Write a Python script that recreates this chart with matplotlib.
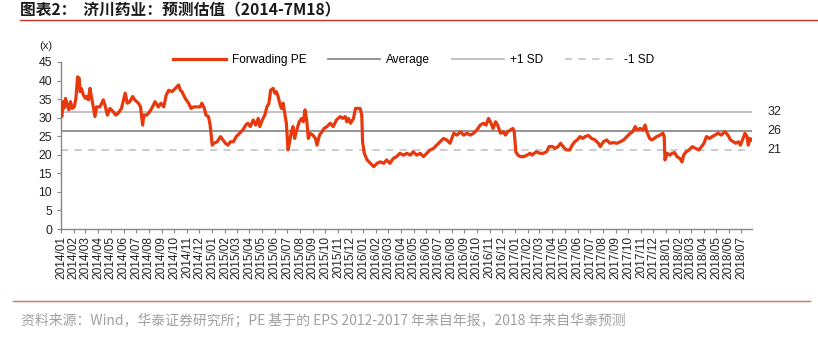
import matplotlib
matplotlib.use("Agg")
import matplotlib.pyplot as plt
import matplotlib.dates as mdates
import pandas as pd

# Forward PE of 济川药业
dates = [
    "2014-01-02", "2014-01-03", "2014-01-06", "2014-01-08", "2014-01-12", "2014-01-16", "2014-01-20",
    "2014-01-24", "2014-01-28", "2014-02-02", "2014-02-06", "2014-02-10", "2014-02-14", "2014-02-16",
    "2014-02-19", "2014-02-24", "2014-03-01", "2014-03-04", "2014-03-08", "2014-03-12", "2014-03-16",
    "2014-03-20", "2014-03-24", "2014-03-28", "2014-04-05", "2014-04-13", "2014-04-17", "2014-04-23",
    "2014-04-29", "2014-05-07", "2014-05-13", "2014-05-19", "2014-05-27", "2014-06-05", "2014-06-10",
    "2014-06-16", "2014-06-23", "2014-06-28", "2014-07-07", "2014-07-12", "2014-07-17", "2014-07-20",
    "2014-07-27", "2014-08-03", "2014-08-08", "2014-08-16", "2014-08-24", "2014-08-30", "2014-09-06",
    "2014-09-12", "2014-09-18", "2014-09-26", "2014-10-04", "2014-10-12", "2014-10-16", "2014-10-20",
    "2014-10-28", "2014-11-05", "2014-11-11", "2014-11-17", "2014-12-03", "2014-12-07", "2014-12-13",
    "2014-12-17", "2014-12-23", "2014-12-27",
    "2015-01-01", "2015-01-05", "2015-01-13", "2015-01-21", "2015-01-27", "2015-02-02", "2015-02-08",
    "2015-02-14", "2015-02-21", "2015-02-28", "2015-03-08", "2015-03-16", "2015-03-23", "2015-03-28",
    "2015-04-03", "2015-04-10", "2015-04-16", "2015-04-22", "2015-04-26", "2015-05-02", "2015-05-08",
    "2015-05-13", "2015-05-18", "2015-05-22", "2015-05-28", "2015-06-01", "2015-06-05", "2015-06-09",
    "2015-06-13", "2015-06-17", "2015-06-21", "2015-06-25", "2015-06-29", "2015-07-03", "2015-07-07",
    "2015-07-11", "2015-07-15", "2015-07-19", "2015-07-23", "2015-07-30", "2015-08-05", "2015-08-09",
    "2015-08-13", "2015-08-17", "2015-08-21", "2015-08-25", "2015-09-01", "2015-09-07", "2015-09-11",
    "2015-09-17", "2015-09-23", "2015-09-28", "2015-10-05", "2015-10-13", "2015-10-20", "2015-10-28",
    "2015-11-06", "2015-11-12", "2015-11-18", "2015-11-22", "2015-11-26", "2015-12-01", "2015-12-08",
    "2015-12-13", "2015-12-18", "2015-12-24", "2015-12-28", "2015-12-30",
    "2016-01-03", "2016-01-10", "2016-01-18", "2016-01-26", "2016-02-03", "2016-02-11", "2016-02-19",
    "2016-02-26", "2016-03-05", "2016-03-13", "2016-03-21", "2016-03-29", "2016-04-07", "2016-04-15",
    "2016-04-23", "2016-04-30", "2016-05-09", "2016-05-17", "2016-05-25", "2016-06-02", "2016-06-10",
    "2016-06-18", "2016-06-26", "2016-07-04", "2016-07-12", "2016-07-20", "2016-07-28", "2016-08-06",
    "2016-08-14", "2016-08-22", "2016-08-30", "2016-09-07", "2016-09-15", "2016-09-23", "2016-10-01",
    "2016-10-09", "2016-10-17", "2016-10-23", "2016-10-29", "2016-11-04", "2016-11-09", "2016-11-15",
    "2016-11-20", "2016-11-27", "2016-12-03", "2016-12-09", "2016-12-14", "2016-12-21", "2016-12-27",
    "2016-12-30",
    "2017-01-03", "2017-01-08", "2017-01-14", "2017-01-22", "2017-01-30", "2017-02-06", "2017-02-11",
    "2017-02-16", "2017-02-22", "2017-03-02", "2017-03-10", "2017-03-18", "2017-03-24", "2017-04-02",
    "2017-04-07", "2017-04-15", "2017-04-21", "2017-04-27", "2017-05-05", "2017-05-13", "2017-05-19",
    "2017-05-25", "2017-05-31", "2017-06-07", "2017-06-13", "2017-06-19", "2017-06-27", "2017-07-05",
    "2017-07-13", "2017-07-21", "2017-07-26", "2017-08-02", "2017-08-10", "2017-08-18", "2017-08-26",
    "2017-09-04", "2017-09-12", "2017-09-20", "2017-09-28", "2017-10-06", "2017-10-12", "2017-10-18",
    "2017-10-23", "2017-10-30", "2017-11-06", "2017-11-11", "2017-11-15", "2017-11-22", "2017-11-27",
    "2017-12-03", "2017-12-09", "2017-12-17", "2017-12-24", "2017-12-27", "2017-12-29",
    "2018-01-03", "2018-01-10", "2018-01-15", "2018-01-21", "2018-01-27", "2018-02-03", "2018-02-08",
    "2018-02-12", "2018-02-18", "2018-02-25", "2018-03-05", "2018-03-13", "2018-03-21", "2018-03-27",
    "2018-04-02", "2018-04-08", "2018-04-16", "2018-04-22", "2018-04-28", "2018-05-06", "2018-05-14",
    "2018-05-22", "2018-05-30", "2018-06-05", "2018-06-12", "2018-06-18", "2018-06-24", "2018-06-29",
    "2018-07-04", "2018-07-10", "2018-07-15", "2018-07-18", "2018-07-22", "2018-07-26",
]
pe = [
    30.7, 30.3, 34.3, 32.5, 35.2, 33.4, 32.1,
    34.3, 32.5, 32.9, 35.2, 41.0, 40.6, 37.0,
    37.9, 36.1, 35.2, 35.7, 34.8, 37.9, 35.2,
    32.9, 30.3, 32.9, 32.9, 34.8, 33.4, 30.7,
    32.5, 31.6, 30.7, 31.2, 32.5, 36.6, 33.9,
    34.3, 35.7, 34.8, 33.9, 32.9, 28.0, 30.7,
    30.7, 31.6, 32.5, 34.3, 32.9, 33.9, 32.9,
    36.1, 37.4, 37.0, 37.9, 38.8, 37.4, 37.0,
    35.2, 33.9, 32.5, 32.9, 32.9, 33.9, 32.5,
    30.7, 30.3, 28.0,
    22.6, 23.1, 23.5, 24.9, 24.0, 23.1, 22.6,
    23.5, 23.5, 24.9, 25.8, 26.7, 28.0, 28.5,
    27.6, 29.4, 28.0, 29.8, 27.6, 29.4, 30.7,
    32.9, 33.9, 37.4, 37.9, 36.6, 37.0, 35.7,
    33.9, 32.5, 33.9, 31.2, 28.5, 21.3, 23.5,
    26.2, 27.6, 24.4, 26.2, 28.9, 29.8, 28.9,
    32.1, 29.4, 24.4, 25.8, 25.3, 24.4, 22.6,
    25.3, 26.2, 27.1, 27.6, 28.5, 27.6, 29.4,
    30.3, 29.8, 30.3, 28.9, 29.8, 28.5, 29.8,
    32.5, 32.5, 32.5, 30.7, 23.5,
    20.4, 18.6, 17.7, 16.8, 17.7, 18.1, 17.7,
    18.6, 17.7, 19.0, 19.5, 20.4, 19.9, 20.4,
    19.9, 20.8, 19.9, 20.4, 19.5, 20.4, 21.3,
    21.7, 22.6, 23.5, 24.4, 24.0, 23.1, 25.8,
    25.3, 26.2, 25.3, 25.8, 25.3, 25.8, 26.7,
    28.0, 28.5, 28.0, 29.8, 28.5, 27.1, 28.9,
    28.0, 25.8, 26.2, 25.3, 26.2, 26.7, 27.1,
    26.2,
    20.8, 19.9, 19.5, 19.5, 19.9, 20.4, 19.9,
    20.4, 20.8, 20.4, 20.4, 20.8, 22.2, 22.2,
    21.7, 22.2, 23.1, 22.2, 21.3, 21.3, 22.6,
    23.5, 24.0, 24.9, 24.4, 24.9, 25.2, 24.4,
    24.0, 23.1, 22.2, 23.5, 24.0, 23.1, 23.3,
    23.1, 23.5, 24.0, 24.9, 25.8, 26.2, 27.6,
    26.7, 27.1, 26.7, 28.0, 26.2, 24.4, 24.0,
    24.4, 24.9, 25.3, 25.8, 24.9, 18.6,
    20.4, 19.9, 20.4, 20.6, 19.5, 19.0, 18.1,
    19.9, 20.8, 21.3, 22.2, 21.7, 21.3, 22.2,
    23.1, 24.9, 24.4, 24.9, 25.3, 25.8, 25.3,
    26.2, 25.3, 24.0, 23.5, 23.1, 23.5, 22.6,
    24.0, 25.8, 24.9, 22.6, 24.4, 24.0,
]

avg_pe = 26.4
plus_sd = 31.6
minus_sd = 21.2
band_labels = ["32", "26", "21"]
y_ticks = [0, 5, 10, 15, 20, 25, 30, 35, 40, 45]
tick_months = pd.date_range("2014-01-01", "2018-07-01", freq="MS")

title = "图表2：  济川药业：预测估值（2014-7M18）"
source = "资料来源：Wind，华泰证券研究所；PE 基于的 EPS 2012-2017 年来自年报，2018 年来自华泰预测"

plt.rcParams["font.family"] = ["Liberation Sans", "DejaVu Sans"]

W, H = 818, 357
fig = plt.figure(figsize=(W / 100, H / 100), dpi=100)
ax = fig.add_axes([61 / W, 1 - 229 / H, (752 - 61) / W, (229 - 62) / H])

x = pd.to_datetime(dates)
ax.plot(x, pe, color="#e8380d", lw=2.3, label="Forwading PE", zorder=3)
ax.axhline(avg_pe, color="#8c8c8c", lw=1.3, label="Average", zorder=2)
ax.axhline(plus_sd, color="#bdbdbd", lw=1.3, label="+1 SD", zorder=2)
ax.axhline(minus_sd, color="#c8c8c8", lw=1.3, ls=(0, (4, 3.5)), label="-1 SD", zorder=2)

ax.set_ylim(0, 45)
ax.set_yticks(y_ticks)
ax.set_xlim(pd.Timestamp("2014-01-01"), pd.Timestamp("2018-07-27"))
ax.set_xticks(tick_months)
ax.xaxis.set_major_formatter(mdates.DateFormatter("%Y/%m"))
ax.tick_params(axis="x", labelrotation=90, labelsize=8.6, length=3, color="#888888",
               pad=2, labelcolor="#222222")
ax.tick_params(axis="y", labelsize=8.8, length=3, color="#888888", labelcolor="#222222")
for s in ["top", "right"]:
    ax.spines[s].set_visible(False)
for s in ["left", "bottom"]:
    ax.spines[s].set_color("#888888")
    ax.spines[s].set_linewidth(1.0)

# values of the bands on the right side
for val, lab in zip([plus_sd, avg_pe, minus_sd], band_labels):
    ax.text(1.022, val, lab, transform=ax.get_yaxis_transform(), va="center",
            ha="left", fontsize=9, color="#222222")

ax.legend(loc="center", bbox_to_anchor=(0.51, 1.01), ncol=4, frameon=False,
          handlelength=4.4, columnspacing=1.8, handletextpad=0.5, fontsize=8.6)

fig.text(46 / W, 1 - 46 / H, "(x)", ha="center", va="center", fontsize=8, color="#222222")

# title and source with red rules
fig.text(20 / W, 1 - 10 / H, title, ha="left", va="center", fontsize=11.3, fontweight="bold",
         color="#1a1a1a", family=["Noto Sans CJK SC", "DejaVu Sans"])
fig.add_artist(plt.Line2D([20 / W, 1.0], [1 - 20 / H, 1 - 20 / H], color="#c9352b", lw=1.0))
fig.add_artist(plt.Line2D([13 / W, 810 / W], [1 - 301 / H, 1 - 301 / H], color="#d9705f", lw=1.0))
fig.text(21 / W, 1 - 321 / H, source, ha="left", va="center", fontsize=10,
         color="#a0a0a0", family=["Noto Sans CJK SC", "DejaVu Sans"])

fig.savefig("out.png", dpi=100)
